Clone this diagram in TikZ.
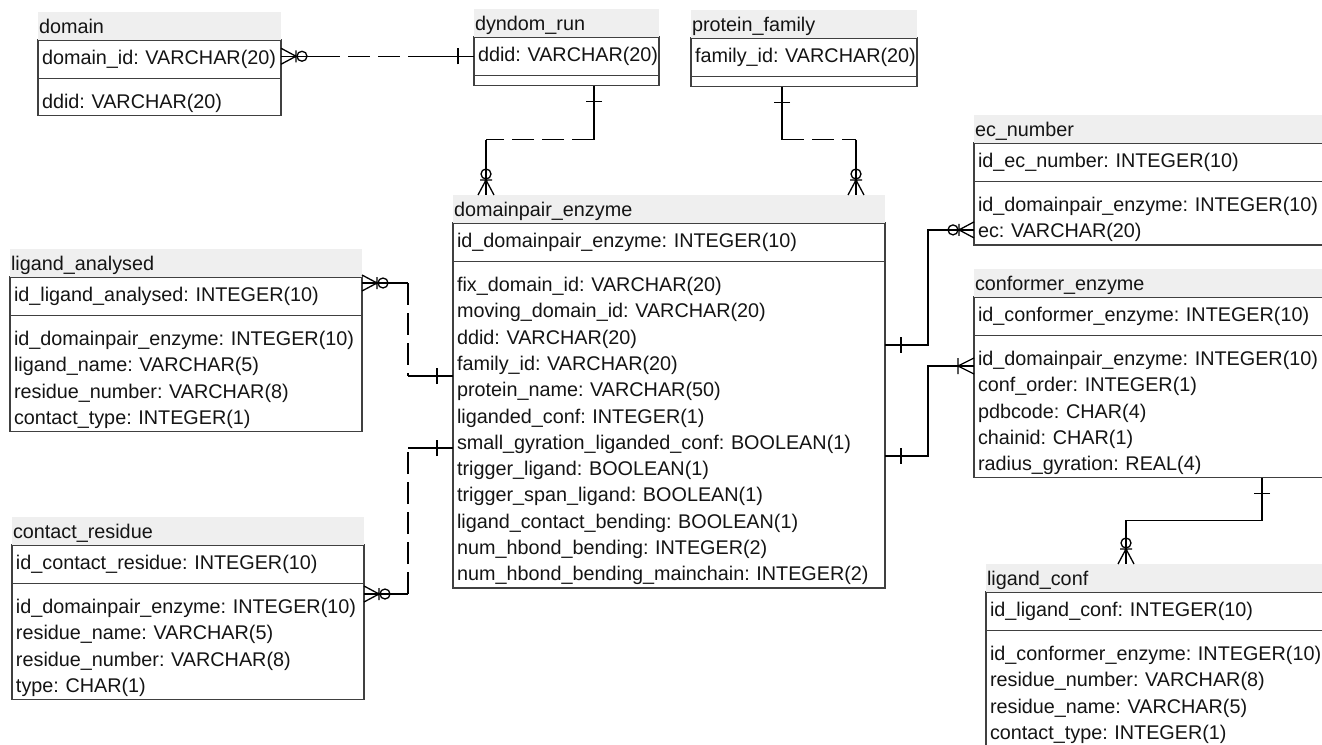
\documentclass[tikz,border=0pt]{standalone}
\usepackage{fontspec}
\setmainfont{Liberation Sans}
\usetikzlibrary{calc,positioning}
\definecolor{Frame}{HTML}{404040}
\definecolor{Shade}{HTML}{EFEFEF}
\definecolor{Ink}{HTML}{141414}
\newcommand\erfont{\fontsize{19.8pt}{26.3pt}\selectfont\hyphenpenalty=10000\exhyphenpenalty=10000}

\tikzset{
  zmany/.pic={\draw[rel] (0,-8) -- (15,0) -- (0,8) (15,-6) -- (15,6); \draw[rel] (21,0) circle[radius=5];},
  omany/.pic={\draw[rel] (0,-8) -- (16,0) -- (0,8) (16,-8) -- (16,8);},
  onebar/.pic={\draw[rel] (16,-8) -- (16,8);}
}

\begin{document}
\begin{tikzpicture}[x=1pt, y=-1pt, font=\erfont, text=Ink,
    rel/.style={draw=black, line width=1.3pt},
    ddash/.style={dash pattern=on 22pt off 8pt},
    tblhead/.style={fill=Shade, text width=#1, align=left, inner xsep=1pt, inner ysep=4.5pt, text height=17pt, text depth=2pt, outer sep=0pt},
    tblkey/.style={draw=Frame, line width=1.3pt, text width=#1, align=left, inner xsep=4pt, inner ysep=0pt, minimum height=38.5pt, outer sep=0pt},
    tblattr/.style={draw=Frame, line width=1.3pt, text width=#1, align=left, inner xsep=4pt, inner ysep=3pt, outer sep=0pt, execute at begin node={\rule{0pt}{27pt}}},
    tblnone/.style={draw=Frame, line width=1.3pt, text width=#1, inner xsep=4pt, inner ysep=0pt, minimum height=10pt, outer sep=0pt}]
  \useasboundingbox (0,0) rectangle (1322,744);
  \clip (0,0) rectangle (1322,744);

  % tables
  \node[tblkey=235pt, anchor=north west] (domainK) at (38,40) {domain\_id:~VARCHAR(20)};
  \node[tblattr=235pt, below=0pt of domainK] (domainA) {ddid:~VARCHAR(20)};
  \node[tblhead=241pt, above=0pt of domainK] (domainH) {domain};

  \node[tblkey=177pt, anchor=north west] (runK) at (474,37) {ddid:~VARCHAR(20)};
  \node[tblnone=177pt, below=0pt of runK] (runA) {};
  \node[tblhead=183pt, above=0pt of runK] (runH) {dyndom\_run};

  \node[tblkey=218pt, anchor=north west] (familyK) at (691,38) {family\_id:~VARCHAR(20)};
  \node[tblnone=218pt, below=0pt of familyK] (familyA) {};
  \node[tblhead=224pt, above=0pt of familyK] (familyH) {protein\_family};

  \node[tblkey=424pt, anchor=north west] (pairK) at (453,223) {id\_domainpair\_enzyme:~INTEGER(10)};
  \node[tblattr=424pt, below=0pt of pairK] (pairA) {fix\_domain\_id:~VARCHAR(20)\\
    moving\_domain\_id:~VARCHAR(20)\\
    ddid:~VARCHAR(20)\\
    family\_id:~VARCHAR(20)\\
    protein\_name:~VARCHAR(50)\\
    liganded\_conf:~INTEGER(1)\\
    small\_gyration\_liganded\_conf:~BOOLEAN(1)\\
    trigger\_ligand:~BOOLEAN(1)\\
    trigger\_span\_ligand:~BOOLEAN(1)\\
    ligand\_contact\_bending:~BOOLEAN(1)\\
    num\_hbond\_bending:~INTEGER(2)\\
    num\_hbond\_bending\_mainchain:~INTEGER(2)};
  \node[tblhead=430pt, above=0pt of pairK] (pairH) {domainpair\_enzyme};

  \node[tblkey=344pt, anchor=north west] (ecK) at (974,143) {id\_ec\_number:~INTEGER(10)};
  \node[tblattr=344pt, below=0pt of ecK] (ecA) {id\_domainpair\_enzyme:~INTEGER(10)\\
    ec:~VARCHAR(20)};
  \node[tblhead=350pt, above=0pt of ecK] (ecH) {ec\_number};

  \node[tblkey=344pt, anchor=north west] (confK) at (974,297) {id\_conformer\_enzyme:~INTEGER(10)};
  \node[tblattr=344pt, below=0pt of confK] (confA) {id\_domainpair\_enzyme:~INTEGER(10)\\
    conf\_order:~INTEGER(1)\\
    pdbcode:~CHAR(4)\\
    chainid:~CHAR(1)\\
    radius\_gyration:~REAL(4)};
  \node[tblhead=350pt, above=0pt of confK] (confH) {conformer\_enzyme};

  \node[tblkey=332pt, anchor=north west] (lconfK) at (986,592) {id\_ligand\_conf:~INTEGER(10)};
  \node[tblattr=332pt, below=0pt of lconfK] (lconfA) {id\_conformer\_enzyme:~INTEGER(10)\\
    residue\_number:~VARCHAR(8)\\
    residue\_name:~VARCHAR(5)\\
    contact\_type:~INTEGER(1)};
  \node[tblhead=338pt, above=0pt of lconfK] (lconfH) {ligand\_conf};

  \node[tblkey=344pt, anchor=north west] (anaK) at (10,277) {id\_ligand\_analysed:~INTEGER(10)};
  \node[tblattr=344pt, below=0pt of anaK] (anaA) {id\_domainpair\_enzyme:~INTEGER(10)\\
    ligand\_name:~VARCHAR(5)\\
    residue\_number:~VARCHAR(8)\\
    contact\_type:~INTEGER(1)};
  \node[tblhead=350pt, above=0pt of anaK] (anaH) {ligand\_analysed};

  \node[tblkey=344pt, anchor=north west] (contK) at (12,545) {id\_contact\_residue:~INTEGER(10)};
  \node[tblattr=344pt, below=0pt of contK] (contA) {id\_domainpair\_enzyme:~INTEGER(10)\\
    residue\_name:~VARCHAR(5)\\
    residue\_number:~VARCHAR(8)\\
    type:~CHAR(1)};
  \node[tblhead=350pt, above=0pt of contK] (contH) {contact\_residue};

  % domain -- dyndom_run
  \coordinate (domainEnd) at (runK.west -| domainK.east);
  \draw[rel] (domainEnd) -- ++(37,0) coordinate (domainDash);
  \draw[rel, ddash] (domainDash) -- ($(runK.west)+(-54,0)$) coordinate (runDash);
  \draw[rel] (runDash) -- (runK.west);
  \pic at (domainEnd) {zmany};
  \pic[rotate=180] at (runK.west) {onebar};

  % dyndom_run -- domainpair_enzyme
  \coordinate (runFoot) at ($(runA.south east)+(-65,0)$);
  \coordinate (runHead) at ($(pairH.north west)+(33,0)$);
  \draw[rel] (runFoot) -- ++(0,54) coordinate (runBend);
  \draw[rel, ddash] (runBend) -- (runBend -| runHead) coordinate (runKnee);
  \draw[rel] (runKnee) -- (runHead);
  \pic[rotate=-90] at (runFoot) {onebar};
  \pic[rotate=90] at (runHead) {zmany};

  % protein_family -- domainpair_enzyme
  \coordinate (familyFoot) at ($(familyA.south east)+(-135,0)$);
  \coordinate (familyHead) at ($(pairH.north east)+(-29,0)$);
  \draw[rel] (familyFoot) -- ++(0,53) coordinate (familyBend);
  \draw[rel, ddash] (familyBend) -- (familyBend -| familyHead) coordinate (familyKnee);
  \draw[rel] (familyKnee) -- (familyHead);
  \pic[rotate=-90] at (familyFoot) {onebar};
  \pic[rotate=90] at (familyHead) {zmany};

  % domainpair_enzyme -- ec_number
  \coordinate (pairEc) at ($(pairA.north east)+(0,83.5)$);
  \coordinate (ecEnd) at ($(ecA.south west)+(0,-15)$);
  \draw[rel] (pairEc) -- ++(43,0) |- (ecEnd);
  \pic at (pairEc) {onebar};
  \pic[rotate=180] at (ecEnd) {zmany};

  % domainpair_enzyme -- conformer_enzyme
  \coordinate (pairConf) at ($(pairA.north east)+(0,194.5)$);
  \coordinate (confEnd) at ($(confA.north west)+(0,30.5)$);
  \draw[rel] (pairConf) -- ++(43,0) |- (confEnd);
  \pic at (pairConf) {onebar};
  \pic[rotate=180] at (confEnd) {omany};

  % conformer_enzyme -- ligand_conf
  \coordinate (confFoot) at ($(confA.south west)+(288,0)$);
  \coordinate (lconfHead) at ($(lconfH.north west)+(140,0)$);
  \draw[rel] (confFoot) -- ++(0,43) -| (lconfHead);
  \pic[rotate=-90] at (confFoot) {onebar};
  \pic[rotate=90] at (lconfHead) {zmany};

  % ligand_analysed -- domainpair_enzyme
  \coordinate (anaStart) at ($(anaK.north east)+(0,6)$);
  \coordinate (anaEnd) at ($(pairA.north west)+(0,114.5)$);
  \draw[rel] (anaStart) -- ++(46,0) coordinate (anaBend);
  \draw[rel, ddash] (anaBend) -- (anaBend |- anaEnd) coordinate (anaKnee);
  \draw[rel] (anaKnee) -- (anaEnd);
  \pic at (anaStart) {zmany};
  \pic[rotate=180] at (anaEnd) {onebar};

  % contact_residue -- domainpair_enzyme
  \coordinate (contStart) at ($(contA.north east)+(0,10.5)$);
  \coordinate (contEnd) at ($(pairA.north west)+(0,186.5)$);
  \draw[rel] (contStart) -- ++(44,0) coordinate (contBend);
  \draw[rel, ddash] (contBend) -- (contBend |- contEnd) coordinate (contKnee);
  \draw[rel] (contKnee) -- (contEnd);
  \pic at (contStart) {zmany};
  \pic[rotate=180] at (contEnd) {onebar};
\end{tikzpicture}
\end{document}
